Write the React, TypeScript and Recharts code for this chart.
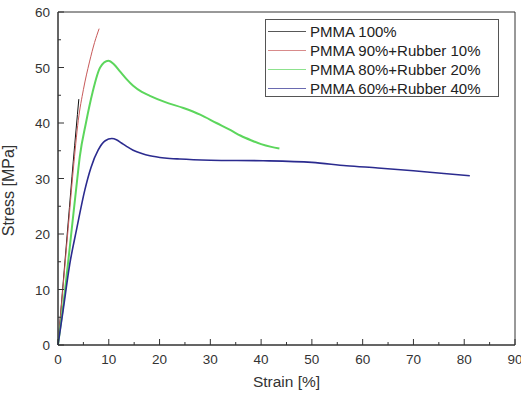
import { LineChart, Line, XAxis, YAxis, Legend, ReferenceArea, Label } from "recharts";

// strain [%] / stress [MPa]
const pmma100Strain = [0, 1, 2, 3, 4.1];
const pmma100Stress = [0, 11, 22, 33, 44.3];

const rubber10Strain = [0, 1, 2, 3, 4, 5, 6.2, 7.2, 8.1];
const rubber10Stress = [0, 10.5, 21, 31.5, 40.5, 46, 51, 54.5, 57];

const rubber20Strain = [0, 1.4, 2.6, 3.8, 4.3, 5.5, 6.8, 8.3, 9.9, 11, 12.2, 13.5, 14.8, 16.5, 18.1, 21, 24.7, 28, 31.2, 34, 36, 38, 40, 42, 43.6];
const rubber20Stress = [0, 10, 20, 30, 34, 40, 45.5, 50, 51.2, 50.6, 49.3, 47.9, 46.7, 45.6, 44.9, 43.8, 42.7, 41.5, 40, 38.7, 37.7, 36.9, 36.2, 35.7, 35.4];

const rubber40Strain = [0, 1, 2.3, 3.7, 5.3, 6.5, 7.9, 9.3, 10.6, 11.5, 12.5, 13.5, 14.8, 16.5, 18.1, 21, 24, 30, 40.4, 50, 56.8, 63, 70, 76, 81.1];
const rubber40Stress = [0, 6.2, 14.5, 21, 28, 32, 35.1, 36.8, 37.2, 37, 36.4, 35.8, 35.1, 34.5, 34.1, 33.7, 33.5, 33.3, 33.2, 32.9, 32.3, 31.9, 31.4, 30.9, 30.5];

const xTicks = [0, 5, 10, 15, 20, 25, 30, 35, 40, 45, 50, 55, 60, 65, 70, 75, 80, 85, 90];
const yTicks = [0, 5, 10, 15, 20, 25, 30, 35, 40, 45, 50, 55, 60];

const toPoints = (xs: number[], ys: number[]) => xs.map((x, i) => ({ strain: x, stress: ys[i] }));

const series = [
  { name: "PMMA 100%", color: "#111111", width: 1, data: toPoints(pmma100Strain, pmma100Stress) },
  { name: "PMMA 90%+Rubber 10%", color: "#c85a5a", width: 1, data: toPoints(rubber10Strain, rubber10Stress) },
  { name: "PMMA 80%+Rubber 20%", color: "#5cd65c", width: 2, data: toPoints(rubber20Strain, rubber20Stress) },
  { name: "PMMA 60%+Rubber 40%", color: "#2b2b8f", width: 1.6, data: toPoints(rubber40Strain, rubber40Stress) },
];

const font = "'Liberation Sans', Arial, sans-serif";
const textColor = "#333";

const XTick = ({ x, y, payload }: any) => {
  const major = payload.value % 10 === 0;
  return (
    <g>
      <line x1={x} x2={x} y1={y} y2={y - (major ? 6 : 3)} stroke="#333" />
      {major && (
        <text x={x} y={y + 19} textAnchor="middle" fontSize={13.5} fill={textColor} fontFamily={font}>
          {payload.value}
        </text>
      )}
    </g>
  );
};

const YTick = ({ x, y, payload }: any) => {
  const major = payload.value % 10 === 0;
  return (
    <g>
      <line x1={x} x2={x + (major ? 6 : 3)} y1={y} y2={y} stroke="#333" />
      {major && (
        <text x={x - 8} y={y + 5} textAnchor="end" fontSize={13.5} fill={textColor} fontFamily={font}>
          {payload.value}
        </text>
      )}
    </g>
  );
};

// legend drawn in series order (recharts sorts its payload by name)
const LegendBox = () => (
  <div
    style={{
      width: 234,
      height: 78,
      border: "1px solid #555",
      background: "#fff",
      fontFamily: font,
      fontSize: 15,
      color: "#222",
      paddingTop: 2,
      boxSizing: "border-box",
    }}
  >
    {series.map((s) => (
      <div key={s.name} style={{ display: "flex", alignItems: "center", height: 19 }}>
        <div style={{ width: 38, height: 1, background: s.color, marginLeft: 2, marginRight: 4, opacity: 0.7 }} />
        <span>{s.name}</span>
      </div>
    ))}
  </div>
);

export default function App() {
  return (
    <div style={{ position: "absolute", left: 0, top: 0, background: "#fff" }}>
      <LineChart width={521} height={396} margin={{ top: 12, right: 6, left: 10, bottom: 0 }}>
        <XAxis
          dataKey="strain"
          type="number"
          domain={[0, 90]}
          ticks={xTicks}
          interval={0}
          height={51}
          tickSize={0}
          tickMargin={0}
          tickLine={false}
          tick={<XTick />}
          axisLine={{ stroke: "#333" }}
          allowDuplicatedCategory={false}
        >
          <Label value="Strain [%]" position="insideTop" offset={31} fontSize={15.5} fill={textColor} fontFamily={font} />
        </XAxis>
        <YAxis
          dataKey="stress"
          type="number"
          domain={[0, 60]}
          ticks={yTicks}
          interval={0}
          width={48}
          tickSize={0}
          tickMargin={0}
          tickLine={false}
          tick={<YTick />}
          axisLine={{ stroke: "#333" }}
        >
          <Label
            value="Stress [MPa]"
            angle={-90}
            position="insideLeft"
            offset={-2}
            dy={12}
            fontSize={16}
            fill={textColor}
            fontFamily={font}
            style={{ textAnchor: "middle" }}
          />
        </YAxis>
        <ReferenceArea x1={0} x2={90} y1={0} y2={60} fill="none" stroke="#333" strokeOpacity={1} />
        {series.map((s) => (
          <Line
            key={s.name}
            data={s.data}
            dataKey="stress"
            name={s.name}
            type="monotone"
            stroke={s.color}
            strokeWidth={s.width}
            dot={false}
            isAnimationActive={false}
          />
        ))}
        <Legend
          layout="vertical"
          align="center"
          verticalAlign="middle"
          content={<LegendBox />}
          wrapperStyle={{ left: 265, top: 19, width: 234, height: 78 }}
        />
      </LineChart>
    </div>
  );
}
